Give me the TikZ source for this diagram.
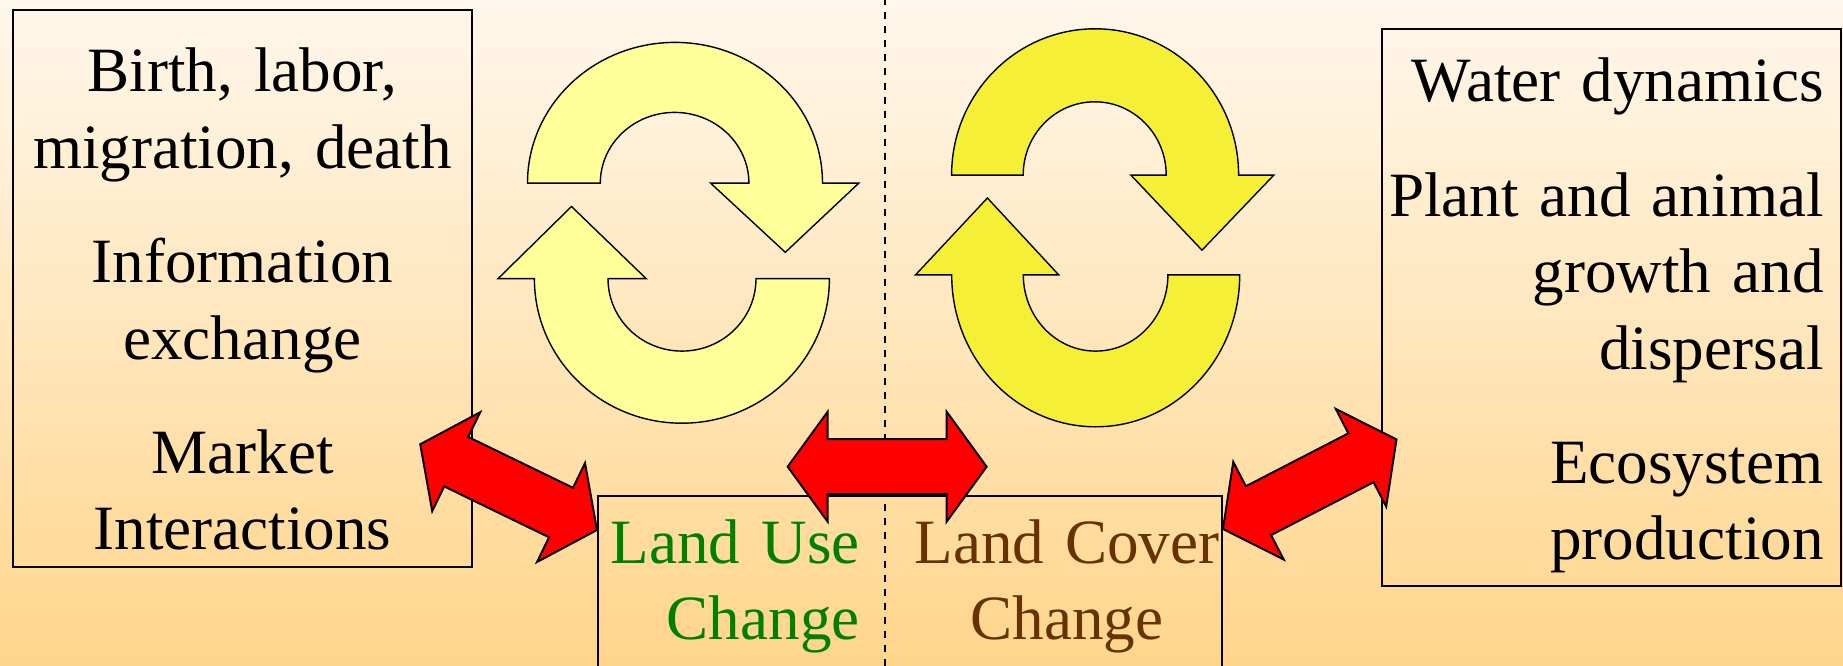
\documentclass[tikz,border=0pt]{standalone}
\usepackage{fontspec}
\setmainfont{Liberation Serif}
\usetikzlibrary{positioning,calc}
\definecolor{bgtop}{HTML}{FFF7EC}
\definecolor{bgbottom}{HTML}{FFD58B}
\definecolor{paleyellow}{HTML}{FFFF99}
\definecolor{brightyellow}{HTML}{F5F035}
\definecolor{usegreen}{HTML}{008000}
\definecolor{coverbrown}{HTML}{663300}

% fat two-headed arrow from #1 to #2
\newcommand{\fatarrow}[2]{%
  \draw[redarrow] (#1)
    -- ($(#1)!0.8cm!(#2)!1.1cm!90:(#2)$)
    -- ($(#1)!0.8cm!(#2)!0.55cm!90:(#2)$)
    -- ($(#2)!0.8cm!(#1)!0.55cm!-90:(#1)$)
    -- ($(#2)!0.8cm!(#1)!1.1cm!-90:(#1)$)
    -- (#2)
    -- ($(#2)!0.8cm!(#1)!1.1cm!90:(#1)$)
    -- ($(#2)!0.8cm!(#1)!0.55cm!90:(#1)$)
    -- ($(#1)!0.8cm!(#2)!0.55cm!-90:(#2)$)
    -- ($(#1)!0.8cm!(#2)!1.1cm!-90:(#2)$)
    -- cycle;}

\begin{document}
\begin{tikzpicture}[box/.style={rectangle, draw, line width=1.1pt, inner sep=0pt, minimum width=#1},
  boxtext/.style={font=\fontsize{35.9}{43.5}\selectfont, inner sep=0pt, text width=#1},
  looparrow/.style={draw=black, line width=0.8pt, fill=#1},
  redarrow/.style={draw=black, line width=1.1pt, fill=red, line join=miter},
  divider/.style={line width=1.1pt, dash pattern=on 4pt off 4pt}]

\useasboundingbox (0,0) rectangle (36.86,13.3);
\clip (0,0) rectangle (36.86,13.3);
\shade[top color=bgtop, bottom color=bgbottom] (0,0) rectangle (36.86,13.3);

% DIVIDER

\draw[divider] (17.7,-0.3) -- (17.7,13.6);

% BOXES

\node [box=9.18cm, minimum height=11.14cm, anchor=north west] (leftbox) at (0.24,13.12) {};

\node [box=9.18cm, minimum height=11.14cm, anchor=north west] (rightbox) at (27.62,12.74) {};

\node [box=12.48cm, minimum height=4.2cm, anchor=north west] (landbox) at (11.94,3.4) {};

\node [boxtext=9cm, align=center, below=1.66cm of leftbox.north, anchor=base] (humantext)
{Birth, labor,\\ migration, death\\[21.5pt] Information\\ exchange\\[21.5pt] Market\\ Interactions};

\node [boxtext=9cm, align=right, below left=1.48cm and 0.36cm of rightbox.north east, anchor=base east] (ecotext)
{Water dynamics\\[21.5pt] Plant and animal\\ growth and\\ dispersal\\[21.5pt] Ecosystem\\ production};

\node [boxtext=6.2cm, align=right, text=usegreen, below left=1.36cm and 1.0cm of landbox.north, anchor=base east] (usetext)
{Land Use\\ Change};

\node [boxtext=6.2cm, align=center, text=coverbrown, below right=1.36cm and 3.14cm of landbox.north, anchor=base] (covertext)
{Land Cover\\ Change};

% CYCLES

\draw[looparrow=paleyellow] (10.55,9.636) arc[start angle=180, end angle=0, x radius=2.95cm, y radius=2.816cm] -- (17.174,9.636) -- (15.706,8.254) -- (14.214,9.636) -- (14.978,9.636) arc[start angle=0, end angle=180, x radius=1.486cm, y radius=1.416cm] -- cycle;

\draw[looparrow=paleyellow] (16.588,7.728) arc[start angle=0, end angle=-180, x radius=2.95cm, y radius=2.892cm] -- (9.962,7.728) -- (11.43,9.17) -- (12.922,7.728) -- (12.16,7.728) arc[start angle=180, end angle=360, x radius=1.48cm, y radius=1.45cm] -- cycle;

\draw[looparrow=brightyellow] (19.032,9.798) arc[start angle=180, end angle=0, x radius=2.87cm, y radius=2.926cm] -- (25.476,9.798) -- (24.04,8.296) -- (22.618,9.798) -- (23.324,9.798) arc[start angle=0, end angle=180, x radius=1.43cm, y radius=1.466cm] -- cycle;

\draw[looparrow=brightyellow] (24.794,7.804) arc[start angle=0, end angle=-180, x radius=2.88cm, y radius=3.04cm] -- (18.312,7.804) -- (19.748,9.34) -- (21.172,7.804) -- (20.466,7.804) arc[start angle=180, end angle=360, x radius=1.446cm, y radius=1.526cm] -- cycle;

% LINKS

\coordinate (humanend) at ($(leftbox.south east)+(-1.054,2.474)$);
\coordinate (useend) at ($(landbox.north west)+(0,-0.7)$);
\coordinate (midleft) at ($(landbox.north)+(-2.446,0.566)$);
\coordinate (midright) at ($(landbox.north)+(1.534,0.566)$);
\coordinate (coverend) at ($(landbox.north east)+(0,-0.68)$);
\coordinate (ecoend) at ($(rightbox.south west)+(0.31,2.95)$);

\fatarrow{humanend}{useend}
\fatarrow{midleft}{midright}
\fatarrow{coverend}{ecoend}

\end{tikzpicture}
\end{document}
